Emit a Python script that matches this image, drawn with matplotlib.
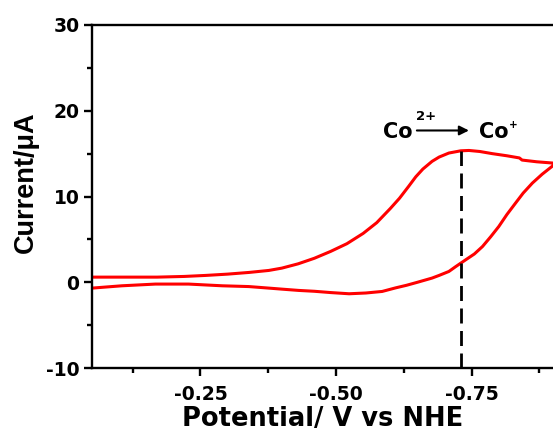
import matplotlib
matplotlib.use("Agg")
import matplotlib.pyplot as plt
from matplotlib.ticker import MultipleLocator, FormatStrFormatter

plt.rcParams["font.family"] = ["DejaVu Sans"]
plt.rcParams["font.weight"] = "bold"
plt.rcParams["axes.unicode_minus"] = False

# forward (cathodic) scan, V vs NHE and current in uA
fwd_potential = [-0.05, -0.10, -0.17, -0.22, -0.26, -0.30, -0.34, -0.376, -0.40, -0.43,
                 -0.46, -0.49, -0.52, -0.55, -0.575, -0.60, -0.617, -0.634, -0.647, -0.66,
                 -0.677, -0.69, -0.708, -0.73, -0.745, -0.765, -0.788, -0.815, -0.838, -0.843,
                 -0.87, -0.90]
fwd_current = [0.6, 0.6, 0.6, 0.68, 0.8, 0.95, 1.15, 1.38, 1.65, 2.15,
               2.8, 3.6, 4.5, 5.7, 6.95, 8.6, 9.8, 11.2, 12.3, 13.2,
               14.1, 14.6, 15.07, 15.33, 15.37, 15.25, 15.0, 14.75, 14.5, 14.25,
               14.05, 13.9]
# return scan
rev_potential = [-0.90, -0.88, -0.862, -0.845, -0.831, -0.815, -0.80, -0.785, -0.77, -0.755,
                 -0.739, -0.72, -0.708, -0.69, -0.677, -0.65, -0.63, -0.61, -0.585, -0.555,
                 -0.524, -0.49, -0.46, -0.431, -0.40, -0.376, -0.339, -0.29, -0.228, -0.167,
                 -0.105, -0.05]
rev_current = [13.6, 12.6, 11.57, 10.4, 9.24, 7.9, 6.5, 5.3, 4.17, 3.3,
               2.62, 1.8, 1.26, 0.8, 0.49, 0.0, -0.35, -0.65, -1.07, -1.25,
               -1.34, -1.2, -1.05, -0.95, -0.8, -0.68, -0.5, -0.41, -0.21, -0.21,
               -0.41, -0.68]

peak_potential = -0.73
peak_current = 15.3

fig = plt.figure(figsize=(5.53, 4.34), dpi=100)
ax = fig.add_axes([0.1664, 0.152, 0.8336, 0.7904])

ax.plot(fwd_potential + rev_potential, fwd_current + rev_current,
        color="#ff0000", lw=2.2, solid_joinstyle="round")
ax.plot([peak_potential, peak_potential], [-10, peak_current],
        color="black", lw=2.0, ls=(0, (5.4, 2.7)))

ax.set_xlim(-0.05, -0.90)
ax.set_ylim(-10, 30)

ax.xaxis.set_major_locator(MultipleLocator(0.25))
ax.xaxis.set_minor_locator(MultipleLocator(0.125))
ax.xaxis.set_major_formatter(FormatStrFormatter("%.2f"))
ax.yaxis.set_major_locator(MultipleLocator(10))
ax.yaxis.set_minor_locator(MultipleLocator(5))

for side in ["left", "bottom", "top"]:
    ax.spines[side].set_linewidth(1.7)
ax.spines["right"].set_visible(False)

ax.tick_params(which="both", direction="out", width=1.7, top=False, right=False)
ax.tick_params(which="major", length=6.0, labelsize=13.5)
ax.tick_params(which="minor", length=3.6)
ax.tick_params(axis="x", which="major", pad=6.5)
ax.tick_params(axis="y", which="major", pad=3)
for lab in ax.get_xticklabels() + ax.get_yticklabels():
    lab.set_fontweight("bold")

ax.set_xlabel("Potential/ V vs NHE", fontsize=18.5, fontweight="bold", labelpad=1.5)
ax.set_ylabel("Current/\u03bcA", fontsize=19.5, fontweight="bold",
              family=["Liberation Sans", "DejaVu Sans"])
ax.yaxis.set_label_coords(-0.115, 0.542)

# annotation Co2+ -> Co+
ax.text(-0.586, 16.85, "Co", fontsize=15, fontweight="bold", ha="left", va="baseline")
ax.text(-0.647, 18.6, "2+", fontsize=9.5, fontweight="bold", ha="left", va="bottom")
ax.annotate("", xy=(-0.745, 17.7), xytext=(-0.649, 17.7),
            arrowprops=dict(arrowstyle="-|>", color="black", lw=1.5,
                            mutation_scale=14, shrinkA=0, shrinkB=0))
ax.text(-0.763, 16.85, "Co", fontsize=15, fontweight="bold", ha="left", va="baseline")
ax.text(-0.819, 17.8, "+", fontsize=7.5, fontweight="bold", ha="left", va="bottom")

fig.savefig("out.png", dpi=100)
